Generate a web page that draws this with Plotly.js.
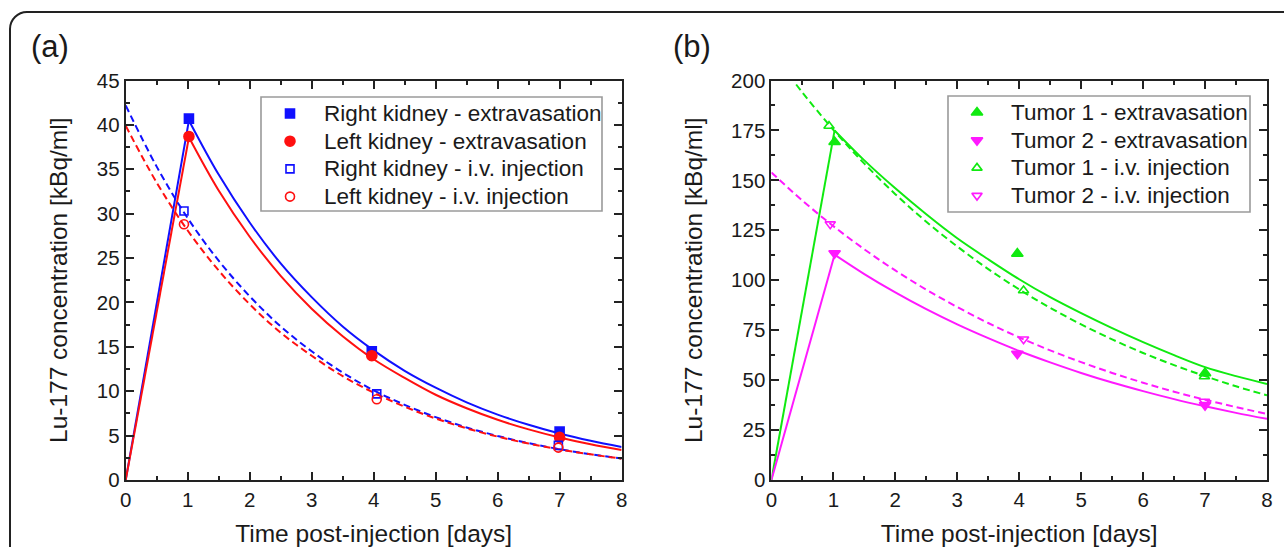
<!DOCTYPE html>
<html>
<head>
<meta charset="utf-8">
<script src="https://cdn.plot.ly/plotly-3.0.1.min.js"></script>
<style>
  html, body { margin: 0; padding: 0; background: #fff; overflow: hidden; }
  #wrap { position: relative; width: 1284px; height: 547px; overflow: hidden; background: #fff; }
  #frame { position: absolute; left: 9px; top: 11px; width: 1400px; height: 700px;
           border: 2px solid #222; border-top-left-radius: 18px; box-sizing: border-box; }
  #chart { position: absolute; left: 0; top: 0; width: 1284px; height: 547px; }
</style>
</head>
<body>
<div id="wrap"><div id="frame"></div><div id="chart"></div></div>
<script>
// ---------- Panel (a): kidneys ----------
const extX = [1.02, 3.97, 7.0];
const ivX = [0.94, 4.05, 6.98];
const rightKidneyExt = [40.7, 14.5, 5.45];
const leftKidneyExt = [38.7, 14.0, 4.8];
const rightKidneyIv = [30.3, 9.7, 3.9];
const leftKidneyIv = [28.8, 9.1, 3.65];

// fitted curves
const riseX = [0, 1.02];
const rkRise = [0, 40.5];
const lkRise = [0, 38.6];
const decayX = [1.02, 1.5, 2, 2.5, 3, 3.5, 4, 4.5, 5, 5.5, 6, 6.5, 7, 7.5, 8];
const rkFitExt = [40.5, 34.4, 29.0, 24.4, 20.6, 17.3, 14.6, 12.3, 10.4, 8.75, 7.37, 6.22, 5.24, 4.42, 3.72];
const lkFitExt = [38.6, 32.6, 27.4, 23.0, 19.3, 16.2, 13.6, 11.5, 9.6, 8.08, 6.78, 5.70, 4.79, 4.02, 3.38];
const ivFitX = [0, 0.5, 1, 1.5, 2, 2.5, 3, 3.5, 4, 4.5, 5, 5.5, 6, 6.5, 7, 7.5, 8];
const rkFitIv = [42.2, 35.3, 29.5, 24.7, 20.7, 17.3, 14.5, 12.1, 10.1, 8.47, 7.08, 5.92, 4.96, 4.15, 3.47, 2.90, 2.43];
const lkFitIv = [39.9, 33.5, 28.1, 23.6, 19.8, 16.6, 14.0, 11.7, 9.84, 8.26, 6.93, 5.82, 4.89, 4.10, 3.44, 2.89, 2.40];

// ---------- Panel (b): tumors ----------
const tExtX = [1.02, 3.97, 7.0];
const t1IvX = [0.93, 4.07, 6.99];
const t2IvX = [0.95, 4.07, 6.99];
const tumor1Ext = [169.2, 113.3, 53.5];
const tumor2Ext = [113.5, 63.2, 37.5];
const tumor1Iv = [177.2, 94.9, 51.8];
const tumor2Iv = [128.1, 70.5, 39.3];

const t1Rise = [0, 175];
const t2Rise = [0, 112.8];
const t1FitExt = [175, 160, 146, 133, 121, 110.5, 100.5, 91.5, 83.5, 76, 69, 62.5, 56.5, 52, 48.1];
const t2FitExt = [112.8, 103.1, 93.9, 85.5, 77.9, 71.0, 64.6, 58.9, 53.6, 48.8, 44.5, 40.5, 36.9, 33.6, 30.6];
const t1IvFitX = [0.4, 0.5, 1, 1.5, 2, 2.5, 3, 3.5, 4, 4.5, 5, 5.5, 6, 6.5, 7, 7.5, 8];
const t1FitIv = [198, 194.0, 175.3, 158.4, 143.1, 129.3, 116.9, 105.6, 95.4, 86.2, 77.9, 70.4, 63.6, 57.5, 52.0, 46.9, 42.4];
const t2FitIv = [154, 139.9, 127.1, 115.5, 104.9, 95.3, 86.6, 78.6, 71.4, 64.9, 59.0, 53.6, 48.7, 44.2, 40.2, 36.5, 33.1];

const xTickVals = [0, 1, 2, 3, 4, 5, 6, 7, 8];
const yTickValsA = [0, 5, 10, 15, 20, 25, 30, 35, 40, 45];
const yTickValsB = [0, 25, 50, 75, 100, 125, 150, 175, 200];

const legendNamesA = ['Right kidney - extravasation', 'Left kidney - extravasation',
                      'Right kidney - i.v. injection', 'Left kidney - i.v. injection'];
const legendNamesB = ['Tumor 1 - extravasation', 'Tumor 2 - extravasation',
                      'Tumor 1 - i.v. injection', 'Tumor 2 - i.v. injection'];

const BLUE = '#1010ff', RED = '#ff1010', GREEN = '#10ea10', MAG = '#ff19ff';
const FONT = 'Liberation Sans, Arial, sans-serif';
const TXT = '#1a1a1a';
const DASH = '7px,4px';
const W = 1284, H = 547;

function fit(x, y, color, dash, xa, ya, shape) {
  return {x: x, y: y, xaxis: xa, yaxis: ya, mode: 'lines', showlegend: false, hoverinfo: 'skip',
          line: {color: color, width: 2, dash: dash || 'solid', shape: shape || 'spline'}};
}
function mk(color, symbol, size) {
  return {color: color, symbol: symbol, size: size, line: {color: color, width: 1.6}};
}
function pts(x, y, name, marker, xa, ya) {
  return {x: x, y: y, xaxis: xa, yaxis: ya, mode: 'markers', name: name, showlegend: false, marker: marker};
}

const mRK = mk(BLUE, 'square', 9), mLK = mk(RED, 'circle', 10);
const mRKi = mk(BLUE, 'square-open', 8), mLKi = mk(RED, 'circle-open', 9);
const mT1 = mk(GREEN, 'triangle-up', 10), mT2 = mk(MAG, 'triangle-down', 10);
const mT1i = mk(GREEN, 'triangle-up-open', 9), mT2i = mk(MAG, 'triangle-down-open', 9);

const traces = [
  fit(riseX, rkRise, BLUE, null, 'x', 'y', 'linear'),
  fit(riseX, lkRise, RED, null, 'x', 'y', 'linear'),
  fit(decayX, rkFitExt, BLUE, null, 'x', 'y'),
  fit(decayX, lkFitExt, RED, null, 'x', 'y'),
  fit(ivFitX, rkFitIv, BLUE, DASH, 'x', 'y'),
  fit(ivFitX, lkFitIv, RED, DASH, 'x', 'y'),
  pts(extX, rightKidneyExt, legendNamesA[0], mRK, 'x', 'y'),
  pts(extX, leftKidneyExt, legendNamesA[1], mLK, 'x', 'y'),
  pts(ivX, rightKidneyIv, legendNamesA[2], mRKi, 'x', 'y'),
  pts(ivX, leftKidneyIv, legendNamesA[3], mLKi, 'x', 'y'),

  fit(riseX, t1Rise, GREEN, null, 'x2', 'y2', 'linear'),
  fit(riseX, t2Rise, MAG, null, 'x2', 'y2', 'linear'),
  fit(decayX, t1FitExt, GREEN, null, 'x2', 'y2'),
  fit(decayX, t2FitExt, MAG, null, 'x2', 'y2'),
  fit(t1IvFitX, t1FitIv, GREEN, DASH, 'x2', 'y2'),
  fit(ivFitX, t2FitIv, MAG, DASH, 'x2', 'y2'),
  pts(tExtX, tumor1Ext, legendNamesB[0], mT1, 'x2', 'y2'),
  pts(tExtX, tumor2Ext, legendNamesB[1], mT2, 'x2', 'y2'),
  pts(t1IvX, tumor1Iv, legendNamesB[2], mT1i, 'x2', 'y2'),
  pts(t2IvX, tumor2Iv, legendNamesB[3], mT2i, 'x2', 'y2')
];

// ---- hand-built legends (compact row pitch like the original) ----
const shapes = [], annotations = [];
function buildLegend(box, names, markers) {
  // box: [left, top, right, bottom] in px; rows spaced evenly
  const [l, t, r, b] = box;
  shapes.push({type: 'rect', xref: 'paper', yref: 'paper', layer: 'below',
               x0: l / W, x1: r / W, y0: 1 - t / H, y1: 1 - b / H,
               line: {color: '#9a9a9a', width: 1.6}, fillcolor: '#fff'});
  const pitch = 27.7, first = t + 16.5, symX = l + 29, txtX = l + 61;
  names.forEach((name, i) => {
    const cy = first + i * pitch;
    annotations.push({text: name, xref: 'paper', yref: 'paper', x: txtX / W, y: 1 - cy / H,
                      xanchor: 'left', yanchor: 'middle', showarrow: false,
                      font: {family: FONT, size: 22.5, color: TXT}});
    traces.push({x: [symX], y: [cy], xaxis: 'x3', yaxis: 'y3', mode: 'markers', showlegend: false,
                 hoverinfo: 'skip', marker: markers[i], cliponaxis: false});
  });
}
buildLegend([261, 97, 602, 211], legendNamesA, [mRK, mLK, mRKi, mLKi]);
buildLegend([948, 96, 1250, 212], legendNamesB, [mT1, mT2, mT1i, mT2i]);

annotations.push(
  {text: '(a)', xref: 'paper', yref: 'paper', x: 29 / W, y: 1 - 47 / H, xanchor: 'left', yanchor: 'middle',
   showarrow: false, font: {family: FONT, size: 31, color: TXT}},
  {text: '(b)', xref: 'paper', yref: 'paper', x: 671 / W, y: 1 - 47 / H, xanchor: 'left', yanchor: 'middle',
   showarrow: false, font: {family: FONT, size: 31, color: TXT}}
);

const axCommon = {
  showgrid: false, zeroline: false, showline: true, linecolor: '#222', linewidth: 2,
  mirror: 'allticks', ticks: 'inside', ticklen: 8, tickwidth: 2, tickcolor: '#222',
  tickfont: {family: FONT, size: 20.5, color: TXT}, fixedrange: true
};
function xa(domain, anchor) {
  return Object.assign({}, axCommon, {
    domain: domain, range: [0, 8], tickvals: xTickVals, anchor: anchor,
    minor: {dtick: 0.5, ticks: 'inside', ticklen: 4, tickwidth: 2, tickcolor: '#222'},
    title: {text: 'Time post-injection [days]', font: {family: FONT, size: 24.5, color: TXT}, standoff: 15}
  });
}
function ya(range, vals, minorDt, anchor) {
  return Object.assign({}, axCommon, {
    domain: [1 - 480 / H, 1 - 80.5 / H], range: range, tickvals: vals, anchor: anchor,
    minor: {dtick: minorDt, ticks: 'inside', ticklen: 4, tickwidth: 2, tickcolor: '#222'},
    title: {text: 'Lu-177 concentration [kBq/ml]', font: {family: FONT, size: 24.5, color: TXT}, standoff: 22}
  });
}

const layout = {
  width: W, height: H, margin: {l: 0, r: 0, t: 0, b: 0}, showlegend: false,
  paper_bgcolor: 'rgba(0,0,0,0)', plot_bgcolor: 'rgba(0,0,0,0)',
  font: {family: FONT, color: TXT},
  xaxis: xa([125.7 / W, 621.6 / W], 'y'),
  yaxis: ya([0, 45], yTickValsA, 2.5, 'x'),
  xaxis2: xa([771.4 / W, 1267 / W], 'y2'),
  yaxis2: ya([0, 200], yTickValsB, 12.5, 'x2'),
  // pixel-space overlay used only to place the legend keys
  xaxis3: {domain: [0, 1], range: [0, W], visible: false, fixedrange: true, anchor: 'y3'},
  yaxis3: {domain: [0, 1], range: [H, 0], visible: false, fixedrange: true, anchor: 'x3'},
  shapes: shapes,
  annotations: annotations
};

Plotly.newPlot('chart', traces, layout, {staticPlot: true, displayModeBar: false});
</script>
</body>
</html>
